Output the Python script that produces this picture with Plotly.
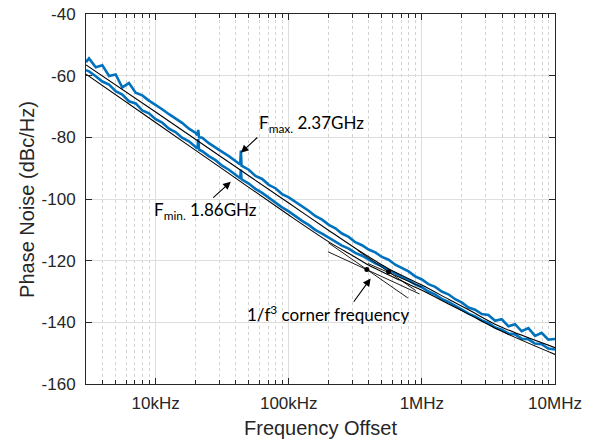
import numpy as np
import plotly.graph_objects as go

# ---------------- data ----------------
freq_khz = [3.0, 3.16, 3.55, 3.98, 4.47, 5.01, 5.62, 6.31, 7.08, 7.94, 8.91,
            10, 11.2, 12.6, 14.1, 15.8, 17.8, 20.0, 20.6, 20.9, 21.2, 22.4, 25.1, 28.2,
            31.6, 35.5, 39.8, 43.2, 43.7, 44.2, 50.1, 56.2, 63.1, 70.8, 79.4, 89.1,
            100, 112, 126, 141, 158, 178, 200, 224, 251, 282, 316, 355, 398, 447,
            501, 562, 631, 708, 794, 891,
            1000, 1120, 1260, 1410, 1580, 1780, 2000, 2240, 2510, 2820, 3160, 3550,
            3980, 4470, 5010, 5620, 6310, 7080, 7940, 8910, 10000]

pn_fmax = [-55.6, -54.4, -57.3, -56.6, -60.1, -59.6, -63.8, -62.4, -65.5, -66.4, -68.1,
           -69.4, -70.9, -72.5, -73.9, -75.3, -77.2, -78.6, -79.3, -77.6, -80.0, -80.1, -81.9, -83.2,
           -84.7, -86.1, -87.7, -88.8, -84.3, -89.2, -90.5, -92.5, -93.5, -95.4, -96.5, -98.4,
           -99.5, -100.9, -102.6, -103.8, -105.5, -106.7, -108.4, -109.5, -111.2, -112.3, -114.0, -115.0, -116.4, -117.3,
           -118.8, -119.7, -121.3, -122.3, -123.5, -125.1,
           -126.1, -127.6, -128.5, -130.0, -130.9, -132.5, -133.6, -135.2, -135.9, -137.3, -137.6, -139.5,
           -139.0, -141.3, -140.6, -142.9, -141.9, -144.4, -143.4, -145.6, -145.4]

pn_fmin = [-58.2, -58.6, -60.2, -61.9, -62.9, -65.0, -66.1, -68.3, -69.0, -71.3, -72.2,
           -74.1, -75.2, -77.2, -78.3, -80.1, -81.3, -83.2, -83.6, -80.6, -84.0, -84.5, -86.1, -87.4,
           -89.2, -90.5, -92.1, -93.3, -90.5, -93.6, -95.0, -96.7, -98.0, -99.6, -101.0, -102.7,
           -104.0, -105.6, -107.1, -108.4, -110.0, -111.2, -112.6, -113.7, -115.1, -116.1, -117.5, -118.4, -119.7, -120.9,
           -121.8, -123.1, -124.1, -125.4, -126.4, -127.7,
           -128.6, -130.0, -131.0, -132.4, -133.4, -134.8, -135.9, -137.2, -138.1, -139.4, -140.2, -141.7,
           -142.4, -143.6, -143.9, -145.3, -145.5, -146.9, -147.1, -148.5, -148.8]

fit_max_khz = [3, 10, 30, 100, 200, 322, 562, 1000, 1600, 2280, 3830, 10000]
fit_max_db = [-56.5, -71.8, -85.9, -101.3, -110.2, -116.2, -122.6, -127.9, -132.6, -136.1, -141.3, -148.2]

fit_min_khz = [3, 10, 30, 100, 200, 300, 400, 681, 1000, 1600, 2280, 3830, 10000]
fit_min_db = [-59.5, -75.2, -89.5, -105.2, -113.9, -118.3, -121.5, -126.3, -129.6, -134.1, -137.5, -142.6, -150.4]

# tangent (asymptote) segments near the corner: [start, end]
tan_min30_khz = [200, 785];  tan_min30_db = [-114.3, -132.1]
tan_min20_khz = [197, 961];  tan_min20_db = [-117.1, -130.8]
tan_max30_khz = [330, 900];  tan_max30_db = [-116.7, -129.7]
tan_max20_khz = [393, 1000]; tan_max20_db = [-120.9, -128.6]
corner_khz = [386, 562]
corner_db = [-122.9, -123.6]

x_tick_vals = [1e4, 1e5, 1e6, 1e7]
x_tick_text = ["10kHz", "100kHz", "1MHz", "10MHz"]
y_tick_vals = [-160, -140, -120, -100, -80, -60, -40]
y_tick_text = ["-160", "-140", "-120", "-100", "-80", "-60", "-40"]

# ---------------- figure ----------------
BLUE = "#0072BD"
AX = "#262626"
hz = lambda a: np.array(a, dtype=float) * 1e3

fig = go.Figure()
fig.add_trace(go.Scatter(x=hz(freq_khz), y=pn_fmax, mode="lines",
                         line=dict(color=BLUE, width=2.6)))
fig.add_trace(go.Scatter(x=hz(freq_khz), y=pn_fmin, mode="lines",
                         line=dict(color=BLUE, width=2.6)))
fig.add_trace(go.Scatter(x=hz(fit_max_khz), y=fit_max_db, mode="lines",
                         line=dict(color="black", width=1.1, shape="spline", smoothing=0.8)))
fig.add_trace(go.Scatter(x=hz(fit_min_khz), y=fit_min_db, mode="lines",
                         line=dict(color="black", width=1.1, shape="spline", smoothing=0.8)))
for fx, fy in [(tan_min30_khz, tan_min30_db), (tan_min20_khz, tan_min20_db),
               (tan_max30_khz, tan_max30_db), (tan_max20_khz, tan_max20_db)]:
    fig.add_trace(go.Scatter(x=hz(fx), y=fy, mode="lines",
                             line=dict(color="black", width=0.9)))
fig.add_trace(go.Scatter(x=hz(corner_khz), y=corner_db, mode="markers",
                         marker=dict(color="black", size=5)))

ANN_FONT = dict(family="Lato", size=17, color="black")
L = np.log10


def arrow(tail_khz, tail_db, head_khz, head_db):
    fig.add_annotation(x=L(head_khz * 1e3), y=head_db, ax=L(tail_khz * 1e3), ay=tail_db,
                       xref="x", yref="y", axref="x", ayref="y", text="",
                       showarrow=True, arrowhead=2, arrowsize=1.4, arrowwidth=1.1,
                       arrowcolor="black")


fig.add_annotation(x=L(57.5e3), y=-75.6, xref="x", yref="y", xanchor="left", yanchor="middle",
                   text="F<sub>max.</sub> 2.37GHz", showarrow=False, font=ANN_FONT)
fig.add_annotation(x=L(9.38e3), y=-103.9, xref="x", yref="y", xanchor="left", yanchor="middle",
                   text="F<sub>min.</sub> 1.86GHz", showarrow=False, font=ANN_FONT)
fig.add_annotation(x=L(46.8e3), y=-137.1, xref="x", yref="y", xanchor="left", yanchor="middle",
                   text="1/f<sup>3</sup> corner frequency", showarrow=False, font=ANN_FONT)
arrow(59.6, -79.6, 43.7, -85.0)
arrow(26.4, -100.0, 36.7, -94.4)
arrow(302, -133.8, 412, -125.8)

# axis titles
TITLE_FONT = dict(family="Liberation Sans, Arial", size=20, color=AX)
fig.add_annotation(x=0.5, y=-0.119, xref="paper", yref="paper", xanchor="center", yanchor="middle",
                   text="Frequency Offset", showarrow=False, font=TITLE_FONT)
fig.add_annotation(x=-0.126, y=0.5, xref="paper", yref="paper", xanchor="center", yanchor="middle",
                   text="Phase Noise (dBc/Hz)", textangle=-90, showarrow=False, font=TITLE_FONT)

# the page body adds an 8px offset, so margins are shifted accordingly
fig.update_layout(
    width=594, height=441,
    margin=dict(l=78, r=47, t=6, b=65, autoexpand=False),
    paper_bgcolor="white", plot_bgcolor="white",
    showlegend=False,
    font=dict(family="Liberation Sans, Arial", size=16, color=AX),
)
fig.update_xaxes(
    type="log", range=[L(3000), 7], automargin=False,
    tickvals=x_tick_vals, ticktext=x_tick_text,
    ticks="inside", ticklen=6, tickcolor=AX, ticklabeloverflow="allow",
    tickfont=dict(family="Liberation Sans, Arial", size=17, color=AX),
    showline=True, linecolor=AX, linewidth=1, mirror="allticks",
    showgrid=True, gridcolor="#dedede", gridwidth=1, zeroline=False,
    minor=dict(dtick="D1", ticks="inside", ticklen=4, tickcolor=AX,
               showgrid=True, gridcolor="#d2d2d2", griddash="dot", gridwidth=1),
    ticklabelstandoff=4,
)
fig.update_yaxes(
    range=[-160, -40], automargin=False,
    tickvals=y_tick_vals, ticktext=y_tick_text,
    ticks="inside", ticklen=6, tickcolor=AX, ticklabeloverflow="allow",
    tickfont=dict(family="Liberation Sans, Arial", size=17, color=AX),
    showline=True, linecolor=AX, linewidth=1, mirror="allticks",
    showgrid=True, gridcolor="#dedede", gridwidth=1, zeroline=False,
    ticklabelstandoff=6,
)

fig.write_html("out.html")
